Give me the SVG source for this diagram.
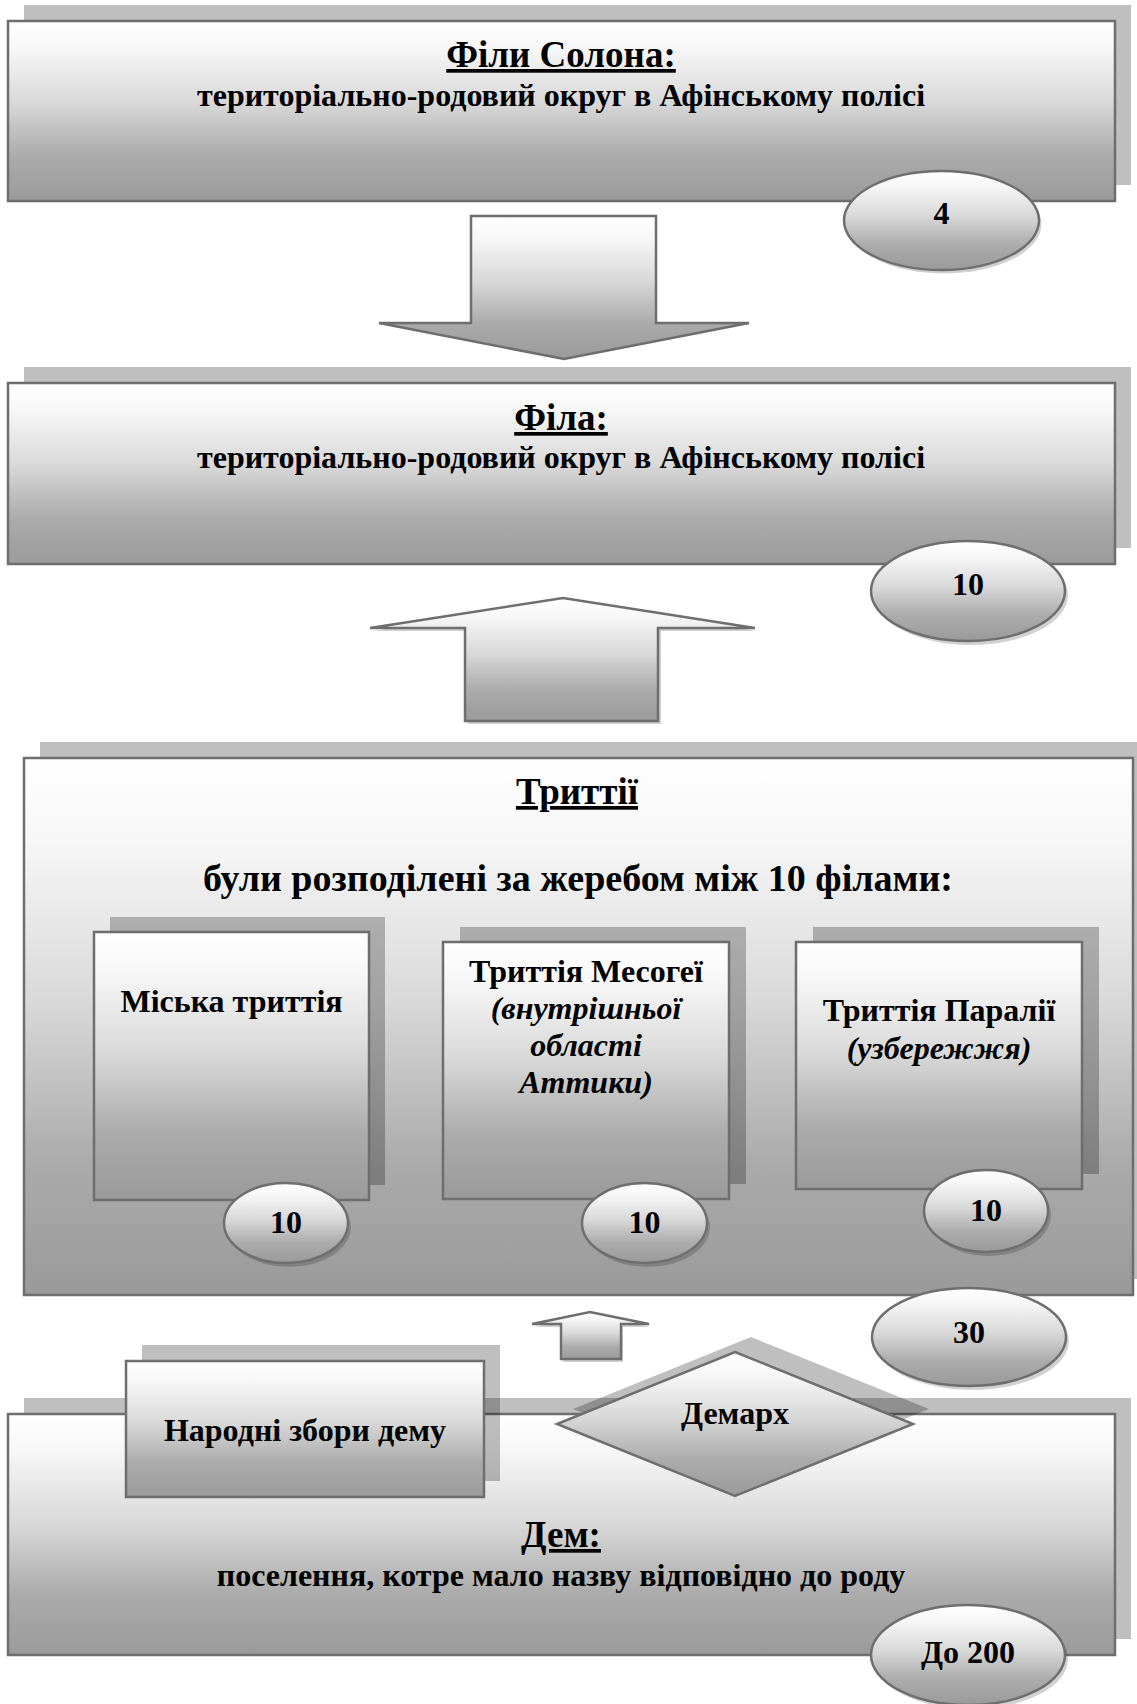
<svg xmlns="http://www.w3.org/2000/svg" width="1137" height="1704" viewBox="0 0 1137 1704">
<defs>
<linearGradient id="g" x1="0" y1="0" x2="0" y2="1">
<stop offset="0" stop-color="#ffffff"/>
<stop offset="0.15" stop-color="#f7f7f7"/>
<stop offset="0.45" stop-color="#d9d9d9"/>
<stop offset="0.75" stop-color="#ababab"/>
<stop offset="1" stop-color="#9a9a9a"/>
</linearGradient>
<style>
.box{fill:url(#g);stroke:#6e6e6e;stroke-width:2.5}
.sh{fill:#000;fill-opacity:0.25}
.esh{fill:#000;fill-opacity:0.18}
.t{font-family:"Liberation Serif","Times New Roman",serif;font-weight:bold;fill:#000;text-anchor:middle}
.h{font-size:37px;text-decoration:underline}
.s{font-size:32px}
.n{font-size:32px}
.i{font-style:italic}
</style>
</defs>
<rect width="1137" height="1704" fill="#ffffff"/>

<g id="connectors">
<polygon points="471,216 656,216 656,323 749,323 564,359 379,323 471,323" class="box" stroke-width="2"/>
<polygon points="468,724 661,724 661,631 757,631 566,601 373,631 468,631" class="esh"/>
<polygon points="465,721 658,721 658,628 755,628 563,598 370,628 465,628" class="box" stroke-width="2"/>
<polygon points="563,1362 623,1362 623,1327 651,1327 592,1315 534,1327 563,1327" class="esh"/>
<polygon points="561,1359 621,1359 621,1324 649,1324 590,1312 532,1324 561,1324" class="box" stroke-width="2"/>
</g>

<g id="fily-solona">
<rect x="24" y="5" width="1107" height="180" class="sh"/>
<rect x="8" y="21" width="1107" height="180" class="box"/>
<text x="561" y="67" class="t h">Філи Солона:</text>
<text x="561" y="106" class="t s">територіально-родовий округ в Афінському полісі</text>
</g>
<g id="oval-4">
<ellipse cx="944" cy="224" rx="97.5" ry="49.5" class="esh"/>
<ellipse cx="941.5" cy="220.5" rx="97.5" ry="49.5" class="box" stroke-width="2"/>
<text x="941.5" y="224" class="t n">4</text>
</g>

<g id="fila">
<rect x="24" y="367" width="1107" height="181" class="sh"/>
<rect x="8" y="383" width="1107" height="181" class="box"/>
<text x="561" y="430" class="t h">Філа:</text>
<text x="561" y="468" class="t s">територіально-родовий округ в Афінському полісі</text>
</g>
<g id="oval-10-fila">
<ellipse cx="971" cy="595" rx="97" ry="50" class="esh"/>
<ellipse cx="968" cy="591" rx="97" ry="50" class="box" stroke-width="2"/>
<text x="968" y="595" class="t n">10</text>
</g>

<g id="trittii">
<rect x="40" y="742" width="1109" height="537" class="sh"/>
<rect x="24" y="758" width="1109" height="537" class="box"/>
<text x="577" y="804" class="t h">Триттії</text>
<text x="578" y="891" class="t" font-size="38">були розподілені за жеребом між 10 філами:</text>
</g>

<g id="miska">
<rect x="110" y="917" width="275" height="268" class="sh"/>
<rect x="94" y="932" width="275" height="268" class="box"/>
<text x="231.5" y="1012" class="t s">Міська триттія</text>
</g>
<g id="oval-10-a">
<ellipse cx="289" cy="1227" rx="62" ry="40" class="esh"/>
<ellipse cx="286" cy="1223" rx="62" ry="40" class="box" stroke-width="2"/>
<text x="286" y="1233" class="t n">10</text>
</g>

<g id="mesogei">
<rect x="460" y="927" width="286" height="257" class="sh"/>
<rect x="443" y="942" width="286" height="257" class="box"/>
<text x="586" y="982" class="t s">Триттія Месогеї</text>
<text x="586" y="1019" class="t s i">(внутрішньої</text>
<text x="586" y="1056" class="t s i">області</text>
<text x="586" y="1093" class="t s i">Аттики)</text>
</g>
<g id="oval-10-b">
<ellipse cx="647.5" cy="1227" rx="62.5" ry="40" class="esh"/>
<ellipse cx="644.5" cy="1223" rx="62.5" ry="40" class="box" stroke-width="2"/>
<text x="644.5" y="1233" class="t n">10</text>
</g>

<g id="paralii">
<rect x="813" y="927" width="286" height="247" class="sh"/>
<rect x="796" y="942" width="286" height="247" class="box"/>
<text x="939" y="1021" class="t s">Триттія Паралії</text>
<text x="939" y="1059" class="t s i">(узбережжя)</text>
</g>
<g id="oval-10-c">
<ellipse cx="989" cy="1215" rx="62" ry="41" class="esh"/>
<ellipse cx="986" cy="1211" rx="62" ry="41" class="box" stroke-width="2"/>
<text x="986" y="1221" class="t n">10</text>
</g>

<g id="oval-30">
<ellipse cx="972" cy="1341" rx="97" ry="49" class="esh"/>
<ellipse cx="969" cy="1337" rx="97" ry="49" class="box" stroke-width="2"/>
<text x="969" y="1343" class="t n">30</text>
</g>

<g id="dem">
<rect x="24" y="1398" width="1107" height="241" class="sh"/>
<rect x="8" y="1414" width="1107" height="241" class="box"/>
<text x="561" y="1547" class="t h">Дем:</text>
<text x="561" y="1586" class="t s">поселення, котре мало назву відповідно до роду</text>
</g>

<g id="narodni-zbory">
<rect x="142" y="1345" width="358" height="136" class="sh"/>
<rect x="126" y="1361" width="358" height="136" class="box"/>
<text x="305" y="1441" class="t s">Народні збори дему</text>
</g>

<g id="demarkh">
<polygon points="751,1337 929,1409 751,1481 573,1409" class="sh"/>
<polygon points="735,1352 913,1424 735,1496 557,1424" class="box"/>
<text x="735" y="1424" class="t s">Демарх</text>
</g>

<g id="oval-do-200">
<ellipse cx="971" cy="1659" rx="97" ry="50" class="esh"/>
<ellipse cx="968" cy="1655" rx="97" ry="50" class="box" stroke-width="2"/>
<text x="968" y="1663" class="t n">До 200</text>
</g>
</svg>
